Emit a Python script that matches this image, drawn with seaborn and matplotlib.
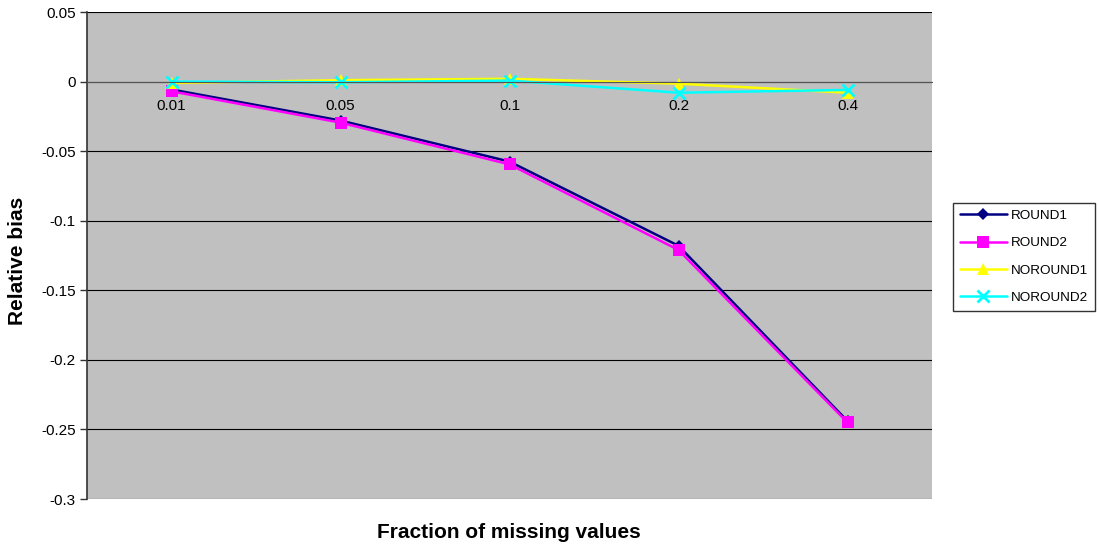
import numpy as np
import pandas as pd
import seaborn as sns
import matplotlib.pyplot as plt
from matplotlib.ticker import FixedLocator, FuncFormatter

fractions = ['0.01', '0.05', '0.1', '0.2', '0.4']
round1 = [-0.0057, -0.028, -0.0575, -0.118, -0.244]
round2 = [-0.007, -0.0295, -0.0595, -0.121, -0.245]
noround1 = [-0.001, 0.001, 0.002, -0.0015, -0.008]
noround2 = [0.0, -0.0005, 0.0007, -0.008, -0.006]

series = {'ROUND1': round1, 'ROUND2': round2, 'NOROUND1': noround1, 'NOROUND2': noround2}
colors = {'ROUND1': '#000080', 'ROUND2': '#FF00FF', 'NOROUND1': '#FFFF00', 'NOROUND2': '#00FFFF'}
markers = {'ROUND1': 'D', 'ROUND2': 's', 'NOROUND1': '^', 'NOROUND2': 'x'}
msize = {'ROUND1': 6, 'ROUND2': 9, 'NOROUND1': 8, 'NOROUND2': 9}

rows = []
for name, vals in series.items():
    for i, v in enumerate(vals):
        rows.append({'pos': i, 'bias': v, 'series': name})
df = pd.DataFrame(rows)

sns.set_style('white')
plt.rcParams['font.family'] = ['Liberation Sans', 'DejaVu Sans']
plt.rcParams['text.color'] = 'black'
plt.rcParams['xtick.color'] = 'black'
plt.rcParams['ytick.color'] = 'black'

fig = plt.figure(figsize=(10.99, 5.52), dpi=100)
ax = fig.add_axes([87 / 1099, 1 - 499 / 552, (932 - 87) / 1099, (499 - 12) / 552])
ax.set_facecolor('#C0C0C0')

for name in series:
    sub = df[df['series'] == name]
    sns.lineplot(data=sub, x='pos', y='bias', ax=ax, color=colors[name], lw=1.8,
                 marker=markers[name], markersize=msize[name], markeredgewidth=2 if name == 'NOROUND2' else 0,
                 markeredgecolor=colors[name], label=name, legend=False)

ax.set_xlim(-0.5, len(fractions) - 0.5)
ax.set_ylim(-0.3, 0.05)
yt = np.round(np.arange(-0.3, 0.051, 0.05), 2)
ax.set_yticks(yt)
ax.yaxis.set_major_formatter(FuncFormatter(lambda v, p: '{:g}'.format(round(v, 2) + 0.0)))
ax.grid(axis='y', color='#000000', lw=0.8)
ax.grid(axis='x', visible=False)

# category axis sits at zero, ticks between categories
ax.spines['bottom'].set_position(('data', 0))
ax.spines['bottom'].set_color('#555555')
ax.spines['left'].set_color('#333333')
ax.spines['left'].set_linewidth(1.2)
ax.spines['top'].set_visible(False)
ax.spines['right'].set_visible(False)
ax.xaxis.set_major_locator(FixedLocator(np.arange(-0.5, len(fractions), 1.0)))
ax.xaxis.set_major_formatter(FuncFormatter(lambda v, p: ''))
ax.set_xticks(np.arange(len(fractions)), minor=True)
ax.set_xticklabels(fractions, minor=True)
ax.tick_params(axis='x', which='major', direction='out', length=5, width=1, color='#333333')
ax.tick_params(axis='x', which='minor', length=0, labelsize=11, pad=12.5, labelcolor='black')
ax.tick_params(axis='y', direction='out', length=5, width=1, color='#333333', labelsize=11, pad=3,
               left=True, labelcolor='black')

ax.set_xlabel('')
ax.set_ylabel('')
fig.text(509 / 1099, 1 - 533 / 552, 'Fraction of missing values', ha='center', va='center',
         fontsize=15, fontweight='bold')
fig.text(18 / 1099, 1 - 261 / 552, 'Relative bias', ha='center', va='center', rotation=90,
         fontsize=15, fontweight='bold')

leg = fig.legend(loc='upper left', bbox_to_anchor=(953 / 1099, 1 - 203 / 552), frameon=True,
                 fancybox=False, edgecolor='#000000', fontsize=9.7, handlelength=3.5,
                 labelspacing=1.1, borderpad=0.5, handletextpad=0.3, borderaxespad=0)
leg.get_frame().set_linewidth(1)

fig.savefig('out.png', dpi=100, facecolor='white')
